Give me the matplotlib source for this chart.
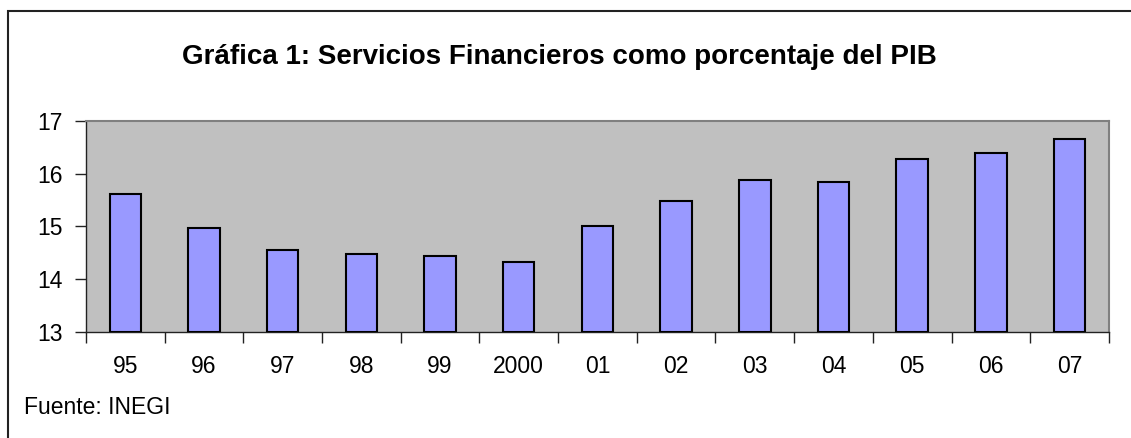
import matplotlib.pyplot as plt
import numpy as np
from matplotlib.patches import Rectangle

plt.rcParams['font.family'] = ['Liberation Sans', 'DejaVu Sans']

years = ["95", "96", "97", "98", "99", "2000", "01", "02", "03", "04", "05", "06", "07"]
valores = [15.62, 14.96, 14.55, 14.47, 14.44, 14.33, 15.0, 15.48, 15.88, 15.85, 16.28, 16.40, 16.65]
yticks = [13, 14, 15, 16, 17]

fig = plt.figure(figsize=(11.31, 4.38), dpi=100)
ax = fig.add_axes([0.0760, 0.2427, 0.9045, 0.481])

x = np.arange(len(years))
ax.bar(x, np.array(valores) - 13, bottom=13, width=0.40, color="#9999FF",
       edgecolor="black", linewidth=1.5, zorder=3)

ax.set_facecolor("#C0C0C0")
ax.set_xlim(-0.5, len(years) - 0.5)
ax.set_ylim(13, 17)
ax.set_yticks(yticks)
ax.set_yticklabels([str(v) for v in yticks], fontsize=16.5)
ax.set_xticks(x)
ax.set_xticklabels(years, fontsize=16.5)
ax.set_xticks(np.arange(len(years) + 1) - 0.5, minor=True)
ax.tick_params(axis="x", which="major", length=0, pad=17)
ax.tick_params(axis="x", which="minor", length=8, width=1, direction="out", color="#222222")
ax.tick_params(axis="y", length=8, width=1, pad=9, color="#222222")

for s in ["top", "right"]:
    ax.spines[s].set_color("#808080")
    ax.spines[s].set_linewidth(1.5)
for s in ["left", "bottom"]:
    ax.spines[s].set_color("#222222")
    ax.spines[s].set_linewidth(1)

fig.text(0.495, 1 - 57 / 438, "Gráfica 1: Servicios Financieros como porcentaje del PIB",
         ha="center", va="center", fontsize=20, fontweight="bold")
fig.text(24 / 1131, 1 - 407 / 438, "Fuente: INEGI", ha="left", va="center", fontsize=16.5)

# marco exterior
fig.patches.append(Rectangle((8 / 1131, -0.1), 1.2, 1.1 - 11 / 438, transform=fig.transFigure,
                             fill=False, edgecolor="#222222", linewidth=1.5))

fig.savefig("out.png", dpi=100)
